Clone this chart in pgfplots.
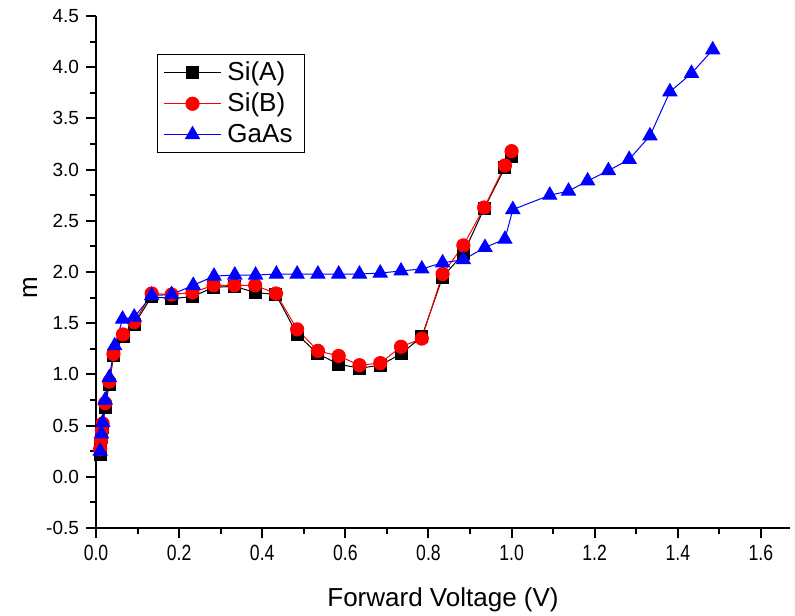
\documentclass[border=0pt]{standalone}
\usepackage{pgfplots}
\pgfplotsset{compat=1.18}
\usepackage{fontspec}
\setmainfont{Liberation Sans}

\pgfplotstableread{
x y
0.010 0.22
0.012 0.30
0.014 0.38
0.016 0.48
0.022 0.68
0.032 0.90
0.042 1.18
0.065 1.37
0.092 1.49
0.134 1.76
0.182 1.74
0.232 1.76
0.283 1.85
0.333 1.86
0.383 1.80
0.433 1.78
0.484 1.39
0.534 1.20
0.584 1.10
0.634 1.06
0.684 1.09
0.734 1.20
0.784 1.37
0.834 1.95
0.884 2.18
0.934 2.62
0.984 3.02
1.000 3.13
}\siA

\pgfplotstableread{
x y
0.010 0.27
0.012 0.35
0.014 0.45
0.016 0.52
0.022 0.72
0.032 0.93
0.042 1.20
0.065 1.39
0.092 1.51
0.134 1.79
0.182 1.78
0.232 1.80
0.283 1.87
0.333 1.87
0.383 1.87
0.433 1.79
0.484 1.44
0.534 1.23
0.584 1.18
0.634 1.09
0.684 1.11
0.734 1.27
0.784 1.35
0.834 1.98
0.884 2.26
0.934 2.63
0.984 3.04
1.000 3.18
}\siB

\pgfplotstableread{
x y
0.010 0.25
0.013 0.42
0.016 0.53
0.022 0.75
0.032 0.97
0.045 1.28
0.064 1.54
0.092 1.56
0.134 1.77
0.182 1.78
0.234 1.87
0.284 1.96
0.334 1.97
0.384 1.97
0.434 1.98
0.484 1.98
0.534 1.98
0.584 1.98
0.634 1.98
0.684 1.99
0.734 2.01
0.784 2.03
0.834 2.09
0.884 2.12
0.936 2.24
0.984 2.32
1.003 2.61
1.092 2.75
1.137 2.79
1.183 2.89
1.233 2.99
1.283 3.10
1.333 3.33
1.381 3.76
1.433 3.94
1.484 4.17
}\gaas

\begin{document}
\begin{tikzpicture}
\begin{axis}[
  scale only axis, width=347pt, height=256pt,
  xmin=0, xmax=1.67, ymin=-0.5, ymax=4.5,
  axis x line*=bottom, axis y line*=left,
  axis line style={line width=1pt, -},
  clip=false,
  xtick={0,0.2,0.4,0.6,0.8,1.0,1.2,1.4,1.6},
  ytick={-0.5,0,0.5,1,1.5,2,2.5,3,3.5,4,4.5},
  minor x tick num=1, minor y tick num=1,
  tick align=outside,
  major tick length=5pt, minor tick length=3pt,
  every tick/.style={black, line width=1pt},
  /pgf/number format/.cd, fixed, fixed zerofill, precision=1, assume math mode=true,
  /pgfplots/.cd,
  xticklabel={\scalebox{0.8}[1]{\pgfmathprintnumber{\tick}}},
  yticklabel style={font=\fontsize{9.5}{10}\selectfont},
  xticklabel style={font=\fontsize{11}{12}\selectfont},
  xlabel={Forward Voltage (V)},
  ylabel={m},
  label style={font=\fontsize{13}{15}\selectfont},
  xlabel style={at={(axis description cs:0.5,-0.14)}, anchor=center},
  ylabel style={at={(axis description cs:-0.095,0.47)}, anchor=center},
  legend style={at={(rel axis cs:0.088,0.926)}, anchor=north west,
    draw=black, line width=0.5pt, font=\fontsize{13}{15}\selectfont,
    inner xsep=3pt, inner ysep=2pt, row sep=1.5pt,
    nodes={inner xsep=3pt, inner ysep=1.6pt}},
  legend cell align=left,
  legend image code/.code={\draw[mark repeat=2,mark phase=2] plot coordinates {(0cm,0cm)(0.5cm,0cm)(1cm,0cm)};},
]
\addplot[black, line width=0.5pt, mark=square*, mark size=3pt, mark options={solid}] table {\siA};
\addlegendentry{Si(A)}
\addplot[red, line width=0.5pt, mark=*, mark size=3.3pt, mark options={solid}] table {\siB};
\addlegendentry{Si(B)}
\addplot[blue, line width=0.5pt, mark=triangle*, mark size=4pt, mark options={solid}] table {\gaas};
\addlegendentry{GaAs}
\end{axis}
\pgfresetboundingbox
\path (-48pt,-43.5pt) rectangle (349.5pt,264pt);
\end{tikzpicture}
\end{document}
